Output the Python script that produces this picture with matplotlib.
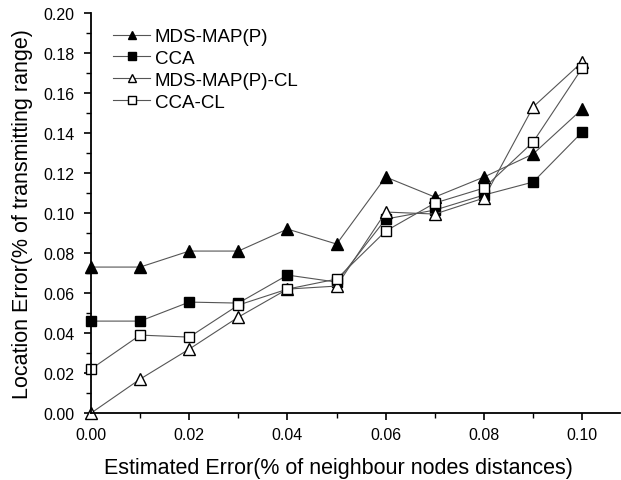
import numpy as np
import matplotlib.pyplot as plt
from matplotlib.ticker import MultipleLocator

plt.rcParams['font.family'] = ['Liberation Sans', 'DejaVu Sans']

# ---- data ----
est_error = [0.00, 0.01, 0.02, 0.03, 0.04, 0.05, 0.06, 0.07, 0.08, 0.09, 0.10]
mds_map_p = [0.073, 0.073, 0.081, 0.081, 0.092, 0.0845, 0.118, 0.108, 0.118, 0.1295, 0.152]
cca = [0.046, 0.046, 0.0555, 0.055, 0.069, 0.0655, 0.097, 0.1015, 0.109, 0.1155, 0.1405]
mds_map_p_cl = [0.000, 0.017, 0.032, 0.048, 0.062, 0.0635, 0.1005, 0.0995, 0.1075, 0.153, 0.1755]
cca_cl = [0.022, 0.039, 0.038, 0.054, 0.062, 0.067, 0.091, 0.105, 0.1125, 0.1355, 0.1725]

fig = plt.figure(figsize=(6.21, 4.81), dpi=100)
ax = fig.add_axes([0.1465, 0.139, 0.852, 0.832])

common = dict(color='#555555', linewidth=0.8, markeredgecolor='black',
              markeredgewidth=1.0, clip_on=False)
ax.plot(est_error, mds_map_p, marker='^', markersize=8.5, markerfacecolor='black',
        label='MDS-MAP(P)', **common)
ax.plot(est_error, cca, marker='s', markersize=7, markerfacecolor='black',
        label='CCA', **common)
ax.plot(est_error, mds_map_p_cl, marker='^', markersize=8.5, markerfacecolor='white',
        label='MDS-MAP(P)-CL', **common)
ax.plot(est_error, cca_cl, marker='s', markersize=7, markerfacecolor='white',
        label='CCA-CL', **common)

ax.set_xlim(0, 0.1077)
ax.set_ylim(0, 0.20)
ax.xaxis.set_major_locator(MultipleLocator(0.02))
ax.xaxis.set_minor_locator(MultipleLocator(0.01))
ax.yaxis.set_major_locator(MultipleLocator(0.02))
ax.yaxis.set_minor_locator(MultipleLocator(0.01))
ax.xaxis.set_major_formatter(plt.FormatStrFormatter('%.2f'))
ax.yaxis.set_major_formatter(plt.FormatStrFormatter('%.2f'))

ax.spines['top'].set_visible(False)
ax.spines['right'].set_visible(False)
ax.spines['left'].set_linewidth(1.3)
ax.spines['bottom'].set_linewidth(1.3)
ax.tick_params(which='major', direction='out', length=5, width=1.2, labelsize=11.5, pad=5)
ax.tick_params(axis='y', which='major', pad=7)
ax.tick_params(which='minor', direction='out', length=3.5, width=1.0)

ax.set_xlabel('Estimated Error(% of neighbour nodes distances)', fontsize=15.5, labelpad=11)
ax.xaxis.set_label_coords(0.467, -0.11)
ax.set_ylabel('Location Error(% of transmitting range)', fontsize=15.5, labelpad=7)

ax.legend(loc='upper left', bbox_to_anchor=(0.014, 1.0), frameon=False, fontsize=13.5,
          markerscale=0.75, handlelength=1.95, handletextpad=0.25,
          labelspacing=0.25, borderaxespad=0.4)

fig.savefig('out.png', dpi=100)
